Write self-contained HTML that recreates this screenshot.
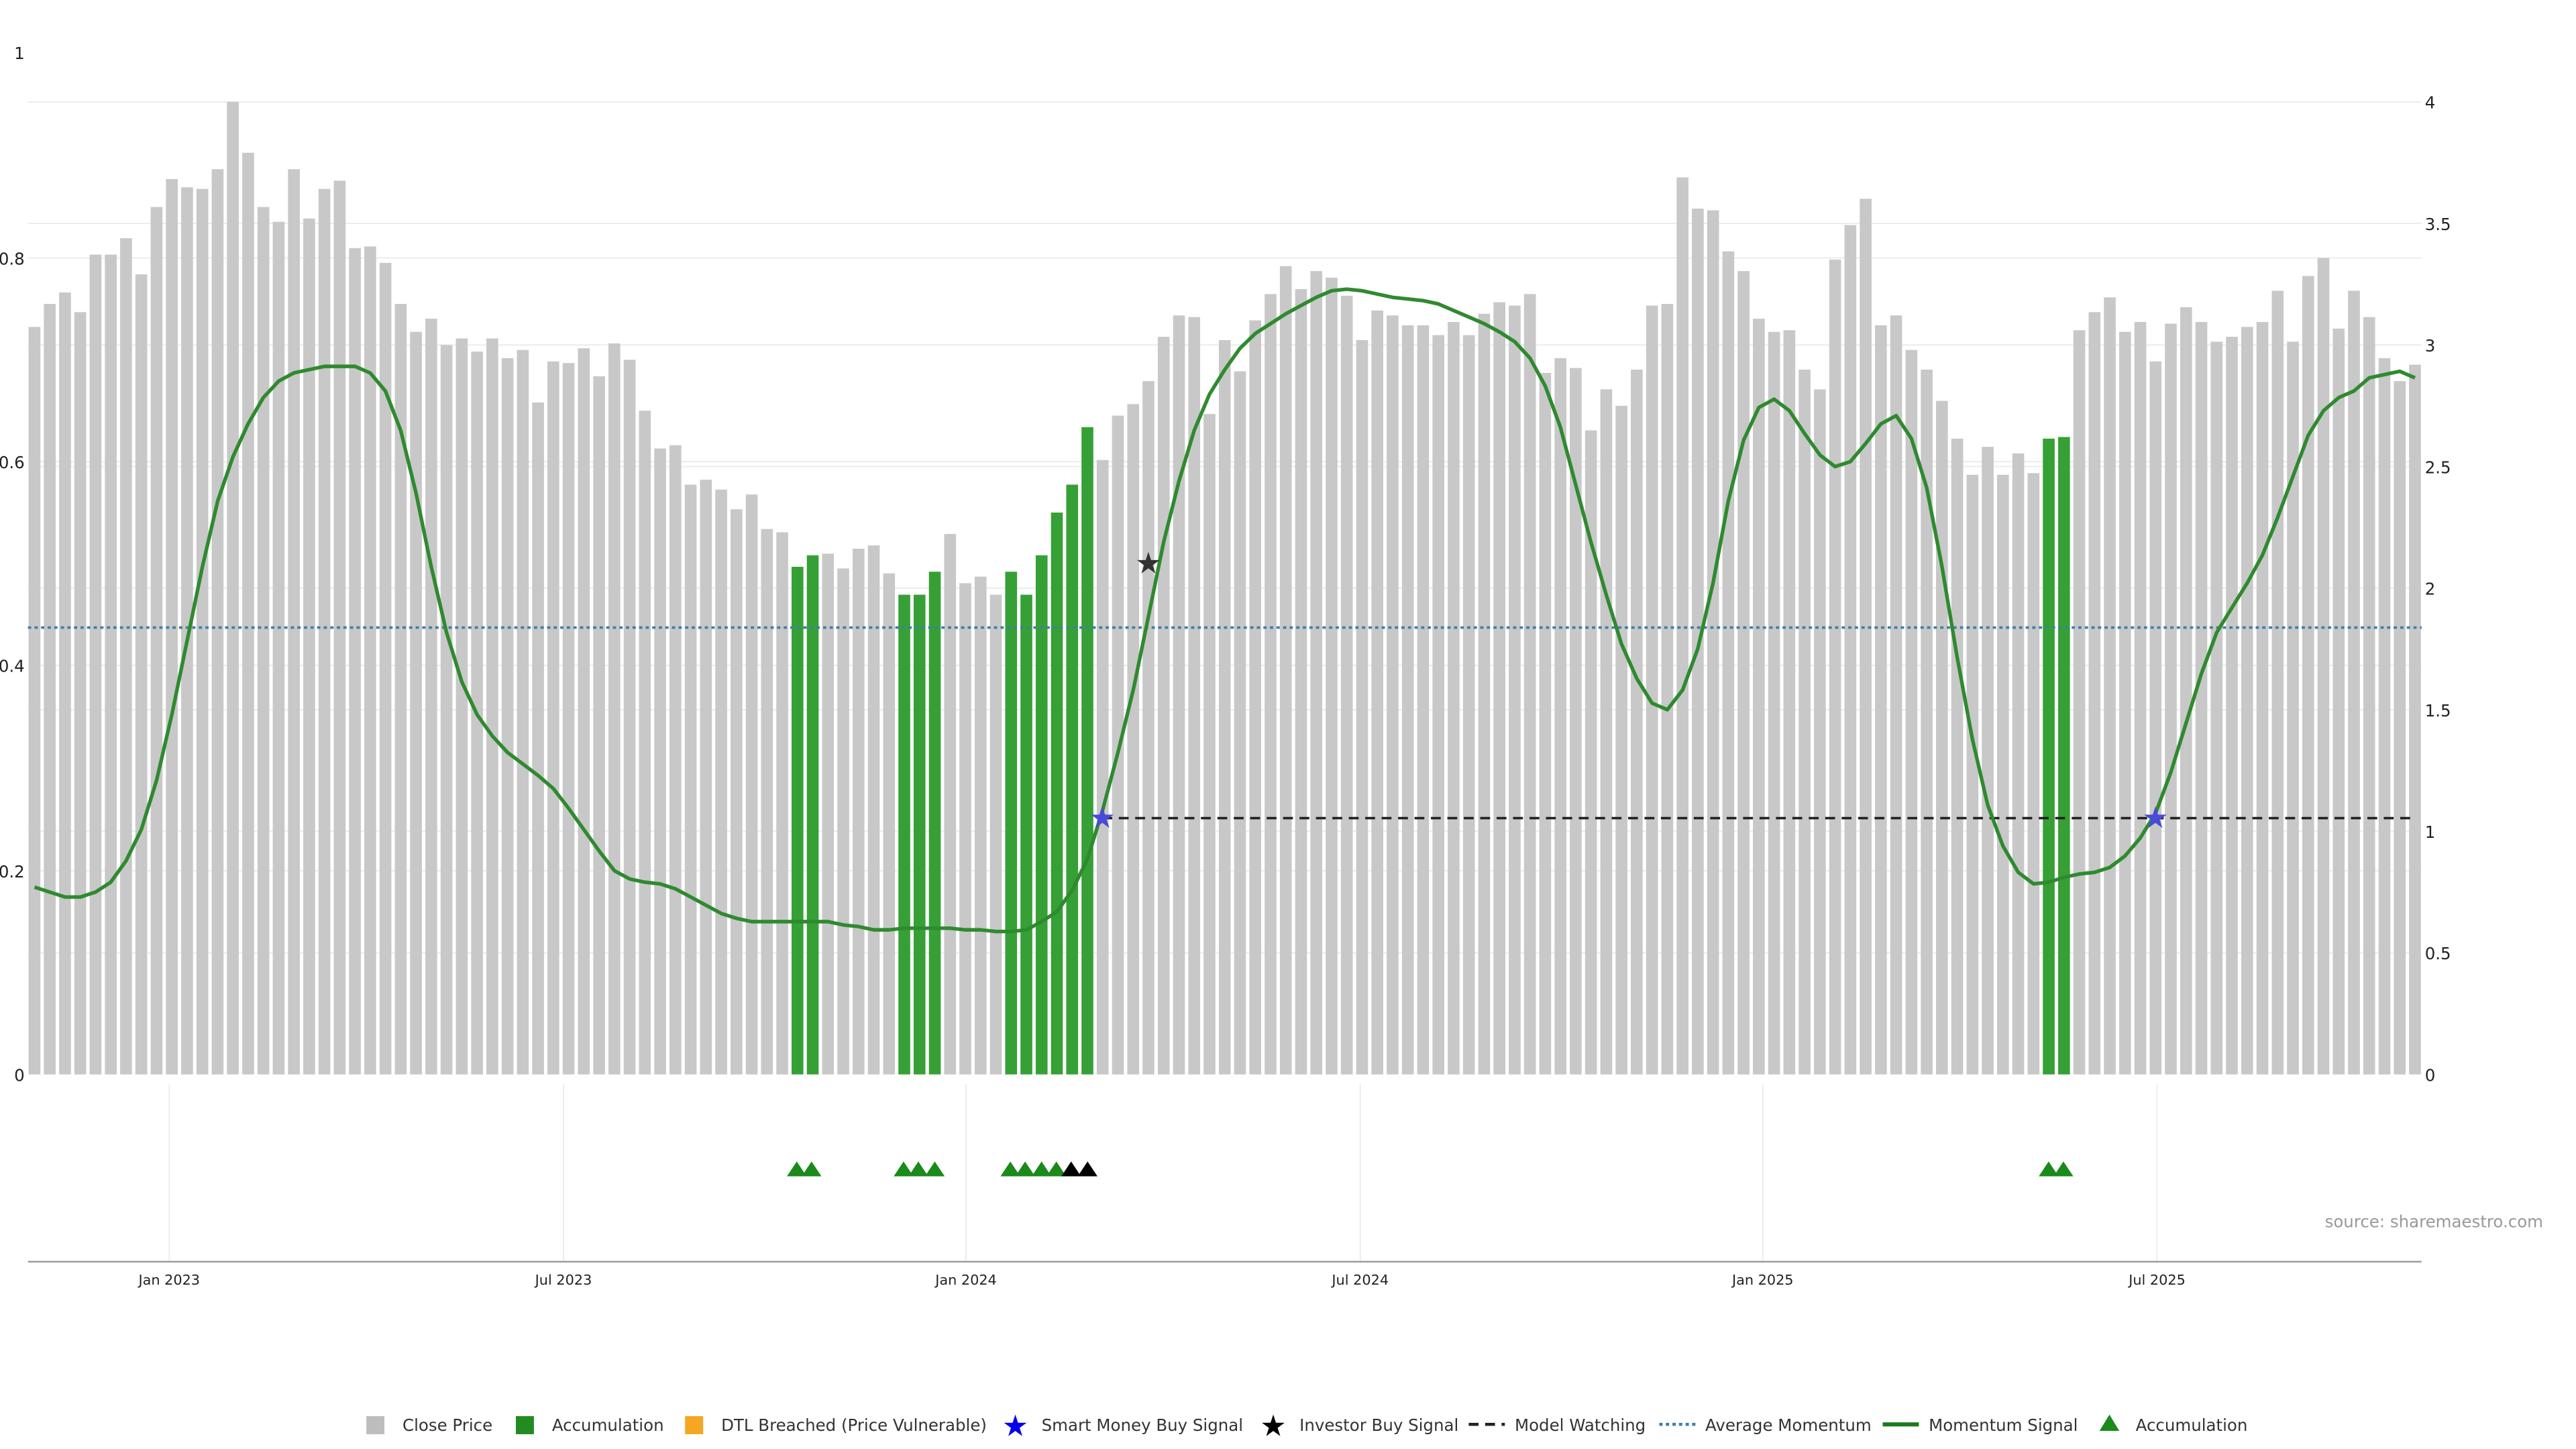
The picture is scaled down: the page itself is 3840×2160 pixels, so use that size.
<!DOCTYPE html>
<html><head><meta charset="utf-8"><style>
html,body{margin:0;padding:0;background:#fff;}
svg{display:block;}
text{font-family:"DejaVu Sans","Liberation Sans",sans-serif;}
</style></head><body>
<svg id="s" width="3840" height="2160" viewBox="0 0 1568 882" xmlns="http://www.w3.org/2000/svg">
<rect width="1568" height="882" fill="#fff"/>
<g id="grid" stroke="#ececec" stroke-width="0.8">
<line x1="17" x2="1474" y1="62" y2="62"/><line x1="17" x2="1474" y1="136" y2="136"/>
<line x1="17" x2="1474" y1="210" y2="210"/><line x1="17" x2="1474" y1="284" y2="284"/>
<line x1="17" x2="1474" y1="358" y2="358"/><line x1="17" x2="1474" y1="432" y2="432"/>
<line x1="17" x2="1474" y1="506" y2="506"/><line x1="17" x2="1474" y1="580" y2="580"/>
<line x1="17" x2="1474" y1="157" y2="157"/><line x1="17" x2="1474" y1="281" y2="281"/>
<line x1="17" x2="1474" y1="405" y2="405"/><line x1="17" x2="1474" y1="530" y2="530"/>
<line x1="103" x2="103" y1="660" y2="768"/><line x1="343" x2="343" y1="660" y2="768"/>
<line x1="588" x2="588" y1="660" y2="768"/><line x1="828" x2="828" y1="660" y2="768"/>
<line x1="1073" x2="1073" y1="660" y2="768"/><line x1="1313" x2="1313" y1="660" y2="768"/>
</g>
<g id="bars"></g>
<line x1="17" x2="1474" y1="382" y2="382" stroke="#3f7fa6" stroke-width="1.5" stroke-dasharray="2,2"/>
<line x1="671" x2="1470" y1="498" y2="498" stroke="#222" stroke-width="1.5" stroke-dasharray="6,4"/>
<polyline id="mom" fill="none" stroke="#2f8a2f" stroke-width="2.2" stroke-linejoin="round"/>
<g font-size="18" text-anchor="middle" dominant-baseline="central">
<text x="671" y="498" fill="#4a4ad8">★</text>
<text x="1312" y="498" fill="#4a4ad8">★</text>
<text x="699" y="343" fill="#333">★</text>
</g>
<g id="tri"></g>
<line x1="17" x2="1474" y1="768" y2="768" stroke="#999" stroke-width="1"/>
<g font-size="8.5" fill="#222" text-anchor="middle">
<text x="103" y="782">Jan 2023</text><text x="343" y="782">Jul 2023</text>
<text x="588" y="782">Jan 2024</text><text x="828" y="782">Jul 2024</text>
<text x="1073" y="782">Jan 2025</text><text x="1313" y="782">Jul 2025</text>
</g>
<g font-size="10" fill="#222" text-anchor="end">
<text x="15" y="36">1</text><text x="15" y="161">0.8</text><text x="15" y="285">0.6</text>
<text x="15" y="409">0.4</text><text x="15" y="534">0.2</text><text x="15" y="658">0</text>
</g>
<g font-size="10" fill="#222">
<text x="1476" y="66">4</text><text x="1476" y="140">3.5</text><text x="1476" y="214">3</text>
<text x="1476" y="288">2.5</text><text x="1476" y="362">2</text><text x="1476" y="436">1.5</text>
<text x="1476" y="510">1</text><text x="1476" y="584">0.5</text><text x="1476" y="658">0</text>
</g>
<text x="1548" y="747" font-size="10" fill="#999" text-anchor="end">source: sharemaestro.com</text>
<g font-size="10" fill="#333">
<rect x="223" y="862" width="11" height="11" fill="#bdbdbd"/><text x="245" y="871">Close Price</text>
<rect x="314" y="862" width="11" height="11" fill="#228b22"/><text x="336" y="871">Accumulation</text>
<rect x="417" y="862" width="11" height="11" fill="#f5a623"/><text x="439" y="871">DTL Breached (Price Vulnerable)</text>
<text x="618" y="874" font-size="18" fill="#0000ee" text-anchor="middle">★</text><text x="634" y="871">Smart Money Buy Signal</text>
<text x="775" y="874" font-size="18" fill="#000" text-anchor="middle">★</text><text x="791" y="871">Investor Buy Signal</text>
<line x1="894" x2="916" y1="867" y2="867" stroke="#222" stroke-width="1.8" stroke-dasharray="6,4"/><text x="922" y="871">Model Watching</text>
<line x1="1010" x2="1032" y1="867" y2="867" stroke="#3f7fa6" stroke-width="1.8" stroke-dasharray="2,2"/><text x="1038" y="871">Average Momentum</text>
<line x1="1146" x2="1168" y1="867" y2="867" stroke="#1a7a1a" stroke-width="2.5"/><text x="1174" y="871">Momentum Signal</text>
<polygon points="1278,871 1290,871 1284,861" fill="#1a8a1a"/><text x="1300" y="871">Accumulation</text>
</g>
</svg>
<script>
var tops=[199,185,178,190,155,155,145,167,126,109,114,115,103,62,93,126,135,103,133,115,110,151,150,160,185,202,194,210,206,214,206,218,213,245,220,221,212,229,209,219,250,273,271,295,292,298,310,301,322,324,345,338,337,346,334,332,349,362,362,348,325,355,351,362,348,362,338,312,295,260,280,253,246,232,205,192,193,252,207,226,195,179,162,176,165,169,180,207,189,192,198,198,204,196,204,191,184,186,179,227,218,224,262,237,247,225,186,185,108,127,128,153,165,194,202,201,225,237,158,137,121,198,192,213,225,244,267,289,272,289,276,288,267,266,201,190,181,202,196,220,197,187,196,208,205,199,196,177,208,168,157,200,177,193,218,232,222];
tops.splice(131,0);
var green={50:1,51:1,57:1,58:1,59:1,64:1,65:1,66:1,67:1,68:1,69:1,132:1,133:1};
var n=tops.length,step=(1470-21)/(n-1),h='';
for(var i=0;i<n;i++){var x=21+i*step;h+='<rect x="'+(x-3.6)+'" y="'+tops[i]+'" width="7.2" height="'+(654-tops[i])+'" fill="'+(green[i]?'#36a036':'#c8c8c8')+'"/>';}
document.getElementById('bars').innerHTML=h;
var m=[540,543,546,546,543,537,524,505,475,435,390,345,305,278,258,242,232,227,225,223,223,223,227,238,262,300,345,385,415,435,448,458,465,472,480,492,505,518,530,535,537,538,541,546,551,556,559,561,561,561,561,561,561,563,564,566,566,565,565,565,565,566,566,567,567,566,561,555,542,523,493,458,420,375,330,293,262,240,225,212,203,197,191,186,181,177,176,177,179,181,182,183,185,189,193,197,202,208,218,235,260,295,330,362,392,413,428,432,420,395,355,305,268,248,243,250,264,277,284,281,270,258,253,267,297,345,400,450,490,515,531,538,537,534,532,531,528,521,510,495,470,440,410,385,370,355,338,315,290,265,250,242,238,230,228,226,230];
var p=[],ms=(1470-21)/(m.length-1);for(var j=0;j<m.length;j++)p.push((21+j*ms).toFixed(1)+','+m[j]);
document.getElementById('mom').setAttribute('points',p.join(' '));
var t='',tx=[[485,'#1a8a1a'],[494,'#1a8a1a'],[550,'#1a8a1a'],[559,'#1a8a1a'],[569,'#1a8a1a'],[615,'#1a8a1a'],[624,'#1a8a1a'],[634,'#1a8a1a'],[643,'#1a8a1a'],[652,'#000'],[662,'#000'],[1247,'#1a8a1a'],[1256,'#1a8a1a']];
tx.forEach(function(a){t+='<polygon points="'+(a[0]-6)+',716 '+(a[0]+6)+',716 '+a[0]+',707" fill="'+a[1]+'"/>';});
document.getElementById('tri').innerHTML=t;
</script>
</body></html>
